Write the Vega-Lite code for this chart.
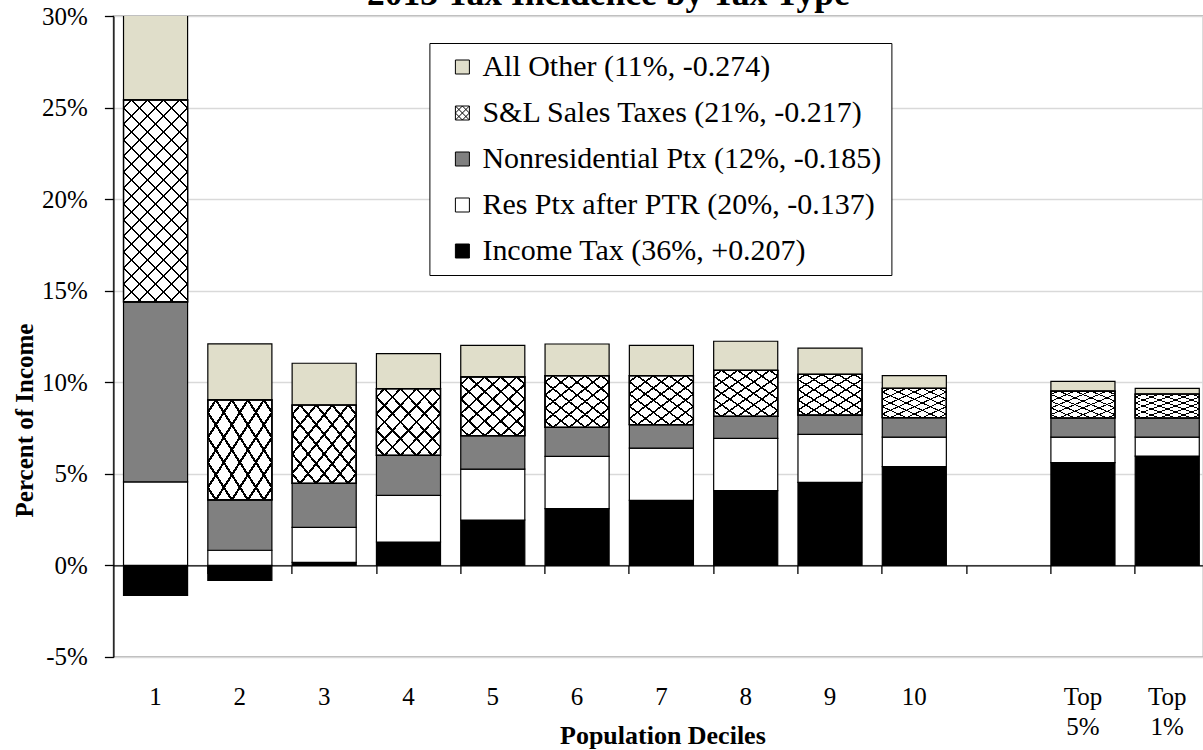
{
  "$schema": "https://vega.github.io/schema/vega-lite/v6.json",
  "width": 1090,
  "height": 641,
  "autosize": "none",
  "padding": {"left": 113.4, "top": 16, "right": 0, "bottom": 93},
  "config": {
    "font": "Liberation Serif",
    "view": {"stroke": "#a0a0a0", "strokeWidth": 1.5},
    "axisY": {
      "titleFont": "Liberation Serif",
      "titleFontSize": 25,
      "titleFontWeight": "bold",
      "titleColor": "black",
      "titleAngle": -90,
      "titleAlign": "center",
      "titleBaseline": "alphabetic",
      "titleX": -81,
      "titleY": 404,
      "labelFont": "Liberation Serif",
      "labelFontSize": 25,
      "labelColor": "black",
      "labelPadding": 17,
      "tickSize": 9,
      "tickColor": "black",
      "tickWidth": 1.3,
      "domainColor": "black",
      "domainWidth": 1.3,
      "grid": true,
      "gridColor": "#d9d9d9",
      "gridWidth": 1.3
    }
  },
  "title": {
    "text": "2013 Tax Incidence by Tax Type",
    "font": "Liberation Serif",
    "fontSize": 35.5,
    "fontWeight": "bold",
    "color": "black",
    "frame": "group",
    "anchor": "middle",
    "baseline": "alphabetic",
    "offset": -36,
    "dx": -50
  },
  "data": {
    "values": [
      {"d": "1", "t": "Income Tax (36%, +0.207)", "v": -1.64},
      {"d": "1", "t": "Res Ptx after PTR (20%, -0.137)", "v": 4.56},
      {"d": "1", "t": "Nonresidential Ptx (12%, -0.185)", "v": 9.83},
      {"d": "1", "t": "S&L Sales Taxes (21%, -0.217)", "v": 11.03},
      {"d": "1", "t": "All Other (11%, -0.274)", "v": 5.5},
      {"d": "2", "t": "Income Tax (36%, +0.207)", "v": -0.82},
      {"d": "2", "t": "Res Ptx after PTR (20%, -0.137)", "v": 0.83},
      {"d": "2", "t": "Nonresidential Ptx (12%, -0.185)", "v": 2.75},
      {"d": "2", "t": "S&L Sales Taxes (21%, -0.217)", "v": 5.46},
      {"d": "2", "t": "All Other (11%, -0.274)", "v": 3.06},
      {"d": "3", "t": "Income Tax (36%, +0.207)", "v": 0.17},
      {"d": "3", "t": "Res Ptx after PTR (20%, -0.137)", "v": 1.91},
      {"d": "3", "t": "Nonresidential Ptx (12%, -0.185)", "v": 2.40},
      {"d": "3", "t": "S&L Sales Taxes (21%, -0.217)", "v": 4.28},
      {"d": "3", "t": "All Other (11%, -0.274)", "v": 2.28},
      {"d": "4", "t": "Income Tax (36%, +0.207)", "v": 1.28},
      {"d": "4", "t": "Res Ptx after PTR (20%, -0.137)", "v": 2.55},
      {"d": "4", "t": "Nonresidential Ptx (12%, -0.185)", "v": 2.18},
      {"d": "4", "t": "S&L Sales Taxes (21%, -0.217)", "v": 3.64},
      {"d": "4", "t": "All Other (11%, -0.274)", "v": 1.91},
      {"d": "5", "t": "Income Tax (36%, +0.207)", "v": 2.48},
      {"d": "5", "t": "Res Ptx after PTR (20%, -0.137)", "v": 2.78},
      {"d": "5", "t": "Nonresidential Ptx (12%, -0.185)", "v": 1.82},
      {"d": "5", "t": "S&L Sales Taxes (21%, -0.217)", "v": 3.21},
      {"d": "5", "t": "All Other (11%, -0.274)", "v": 1.73},
      {"d": "6", "t": "Income Tax (36%, +0.207)", "v": 3.10},
      {"d": "6", "t": "Res Ptx after PTR (20%, -0.137)", "v": 2.85},
      {"d": "6", "t": "Nonresidential Ptx (12%, -0.185)", "v": 1.59},
      {"d": "6", "t": "S&L Sales Taxes (21%, -0.217)", "v": 2.82},
      {"d": "6", "t": "All Other (11%, -0.274)", "v": 1.73},
      {"d": "7", "t": "Income Tax (36%, +0.207)", "v": 3.55},
      {"d": "7", "t": "Res Ptx after PTR (20%, -0.137)", "v": 2.86},
      {"d": "7", "t": "Nonresidential Ptx (12%, -0.185)", "v": 1.28},
      {"d": "7", "t": "S&L Sales Taxes (21%, -0.217)", "v": 2.67},
      {"d": "7", "t": "All Other (11%, -0.274)", "v": 1.66},
      {"d": "8", "t": "Income Tax (36%, +0.207)", "v": 4.08},
      {"d": "8", "t": "Res Ptx after PTR (20%, -0.137)", "v": 2.86},
      {"d": "8", "t": "Nonresidential Ptx (12%, -0.185)", "v": 1.20},
      {"d": "8", "t": "S&L Sales Taxes (21%, -0.217)", "v": 2.51},
      {"d": "8", "t": "All Other (11%, -0.274)", "v": 1.59},
      {"d": "9", "t": "Income Tax (36%, +0.207)", "v": 4.54},
      {"d": "9", "t": "Res Ptx after PTR (20%, -0.137)", "v": 2.62},
      {"d": "9", "t": "Nonresidential Ptx (12%, -0.185)", "v": 1.05},
      {"d": "9", "t": "S&L Sales Taxes (21%, -0.217)", "v": 2.22},
      {"d": "9", "t": "All Other (11%, -0.274)", "v": 1.44},
      {"d": "10", "t": "Income Tax (36%, +0.207)", "v": 5.39},
      {"d": "10", "t": "Res Ptx after PTR (20%, -0.137)", "v": 1.62},
      {"d": "10", "t": "Nonresidential Ptx (12%, -0.185)", "v": 1.06},
      {"d": "10", "t": "S&L Sales Taxes (21%, -0.217)", "v": 1.60},
      {"d": "10", "t": "All Other (11%, -0.274)", "v": 0.69},
      {"d": "Top 5%", "t": "Income Tax (36%, +0.207)", "v": 5.61},
      {"d": "Top 5%", "t": "Res Ptx after PTR (20%, -0.137)", "v": 1.40},
      {"d": "Top 5%", "t": "Nonresidential Ptx (12%, -0.185)", "v": 1.04},
      {"d": "Top 5%", "t": "S&L Sales Taxes (21%, -0.217)", "v": 1.47},
      {"d": "Top 5%", "t": "All Other (11%, -0.274)", "v": 0.53},
      {"d": "Top 1%", "t": "Income Tax (36%, +0.207)", "v": 5.97},
      {"d": "Top 1%", "t": "Res Ptx after PTR (20%, -0.137)", "v": 1.04},
      {"d": "Top 1%", "t": "Nonresidential Ptx (12%, -0.185)", "v": 1.04},
      {"d": "Top 1%", "t": "S&L Sales Taxes (21%, -0.217)", "v": 1.31},
      {"d": "Top 1%", "t": "All Other (11%, -0.274)", "v": 0.31}
    ]
  },
  "transform": [
    {"calculate": "indexof(['Income Tax (36%, +0.207)', 'Res Ptx after PTR (20%, -0.137)', 'Nonresidential Ptx (12%, -0.185)', 'S&L Sales Taxes (21%, -0.217)', 'All Other (11%, -0.274)'], datum.t)", "as": "o"},
    {"stack": "v", "groupby": ["d"], "sort": [{"field": "o", "order": "ascending"}], "as": ["y0", "y1"]}
  ],
  "resolve": {"axis": {"x": "independent"}},
  "layer": [
    {
      "mark": {"type": "bar", "stroke": "black", "strokeWidth": 1.2, "clip": true},
      "encoding": {
        "x": {
          "field": "d",
          "type": "nominal",
          "sort": null,
          "scale": {
            "domain": ["1", "2", "3", "4", "5", "6", "7", "8", "9", "10", " ", "Top 5%", "Top 1%"],
            "range": [0, 1096],
            "paddingInner": 0.24,
            "paddingOuter": 0.12
          },
          "axis": {
            "orient": "bottom",
            "title": "Population Deciles",
            "titleFont": "Liberation Serif",
            "titleFontSize": 26,
            "titleFontWeight": "bold",
            "titleColor": "black",
            "titleBaseline": "alphabetic",
            "titleX": 549,
            "titleY": 87,
            "domain": false,
            "ticks": false,
            "tickSize": 0,
            "grid": false,
            "labelFont": "Liberation Serif",
            "labelFontSize": 25,
            "labelColor": "black",
            "labelAngle": 0,
            "labelBaseline": "alphabetic",
            "labelPadding": 48,
            "labelLineHeight": 30,
            "labelExpr": "datum.value == 'Top 5%' ? ['Top', '5%'] : datum.value == 'Top 1%' ? ['Top', '1%'] : datum.label"
          }
        },
        "y": {
          "field": "y0",
          "type": "quantitative",
          "scale": {"domain": [-5, 30], "nice": false, "zero": false},
          "axis": {"title": "Percent of Income", "values": [-5, 0, 5, 10, 15, 20, 25, 30], "labelExpr": "datum.value + '%'"}
        },
        "y2": {"field": "y1"},
        "fill": {
          "field": "t",
          "type": "nominal",
          "scale": {
            "domain": ["All Other (11%, -0.274)", "S&L Sales Taxes (21%, -0.217)", "Nonresidential Ptx (12%, -0.185)", "Res Ptx after PTR (20%, -0.137)", "Income Tax (36%, +0.207)"],
            "range": ["#e0deca", "white", "#808080", "white", "black"]
          },
          "legend": {
            "title": null,
            "orient": "none",
            "legendX": 316,
            "legendY": 27,
            "direction": "vertical",
            "labelFont": "Liberation Serif",
            "labelFontSize": 30,
            "labelColor": "black",
            "labelLimit": 700,
            "labelOffset": 5,
            "symbolType": "square",
            "symbolSize": 196,
            "symbolStrokeColor": "black",
            "symbolStrokeWidth": 1,
            "symbolOffset": 9,
            "padding": 9,
            "rowPadding": 16,
            "strokeColor": "black",
            "fillColor": "white",
            "encode": {
              "symbols": {
                "update": {
                  "stroke": {"value": "black"},
                  "strokeWidth": {"value": 1},
                  "shape": [
                    {"test": "datum.value === 'S&L Sales Taxes (21%, -0.217)'", "value": "M-1,-1L1,-1L1,1L-1,1Z M-1,0L0,-1 M-1,1L1,-1 M0,1L1,0 M-1,0L0,1 M-1,-1L1,1 M0,-1L1,0"},
                    {"value": "square"}
                  ]
                }
              }
            }
          }
        }
      }
    },
    {
      "transform": [{"filter": "datum.t == 'S&L Sales Taxes (21%, -0.217)' && datum.d != '1'"}],
      "mark": {
        "type": "bar",
        "stroke": "black",
        "strokeWidth": 1.2,
        "clip": true,
        "fill": {"gradient": "linear", "x1": 0, "y1": 0, "x2": 1, "y2": 1, "stops": [
          {"offset": 0, "color": "rgba(0,0,0,0)"},
          {"offset": 0.0525, "color": "rgba(0,0,0,0)"}, {"offset": 0.0525, "color": "black"}, {"offset": 0.0725, "color": "black"}, {"offset": 0.0725, "color": "rgba(0,0,0,0)"},
          {"offset": 0.1775, "color": "rgba(0,0,0,0)"}, {"offset": 0.1775, "color": "black"}, {"offset": 0.1975, "color": "black"}, {"offset": 0.1975, "color": "rgba(0,0,0,0)"},
          {"offset": 0.3025, "color": "rgba(0,0,0,0)"}, {"offset": 0.3025, "color": "black"}, {"offset": 0.3225, "color": "black"}, {"offset": 0.3225, "color": "rgba(0,0,0,0)"},
          {"offset": 0.4275, "color": "rgba(0,0,0,0)"}, {"offset": 0.4275, "color": "black"}, {"offset": 0.4475, "color": "black"}, {"offset": 0.4475, "color": "rgba(0,0,0,0)"},
          {"offset": 0.5525, "color": "rgba(0,0,0,0)"}, {"offset": 0.5525, "color": "black"}, {"offset": 0.5725, "color": "black"}, {"offset": 0.5725, "color": "rgba(0,0,0,0)"},
          {"offset": 0.6775, "color": "rgba(0,0,0,0)"}, {"offset": 0.6775, "color": "black"}, {"offset": 0.6975, "color": "black"}, {"offset": 0.6975, "color": "rgba(0,0,0,0)"},
          {"offset": 0.8025, "color": "rgba(0,0,0,0)"}, {"offset": 0.8025, "color": "black"}, {"offset": 0.8225, "color": "black"}, {"offset": 0.8225, "color": "rgba(0,0,0,0)"},
          {"offset": 0.9275, "color": "rgba(0,0,0,0)"}, {"offset": 0.9275, "color": "black"}, {"offset": 0.9475, "color": "black"}, {"offset": 0.9475, "color": "rgba(0,0,0,0)"},
          {"offset": 1, "color": "rgba(0,0,0,0)"}
        ]}
      },
      "encoding": {
        "x": {
          "field": "d",
          "type": "nominal",
          "sort": null,
          "scale": {
            "domain": ["1", "2", "3", "4", "5", "6", "7", "8", "9", "10", " ", "Top 5%", "Top 1%"],
            "range": [0, 1096],
            "paddingInner": 0.24,
            "paddingOuter": 0.12
          },
          "axis": null
        },
        "y": {
          "field": "y0",
          "type": "quantitative",
          "scale": {"domain": [-5, 30], "nice": false, "zero": false},
          "axis": {"title": "Percent of Income", "values": [-5, 0, 5, 10, 15, 20, 25, 30], "labelExpr": "datum.value + '%'"}
        },
        "y2": {"field": "y1"}
      }
    },
    {
      "transform": [{"filter": "datum.t == 'S&L Sales Taxes (21%, -0.217)' && datum.d != '1'"}],
      "mark": {
        "type": "bar",
        "stroke": "black",
        "strokeWidth": 1.2,
        "clip": true,
        "fill": {"gradient": "linear", "x1": 1, "y1": 0, "x2": 0, "y2": 1, "stops": [
          {"offset": 0, "color": "rgba(0,0,0,0)"},
          {"offset": 0.0525, "color": "rgba(0,0,0,0)"}, {"offset": 0.0525, "color": "black"}, {"offset": 0.0725, "color": "black"}, {"offset": 0.0725, "color": "rgba(0,0,0,0)"},
          {"offset": 0.1775, "color": "rgba(0,0,0,0)"}, {"offset": 0.1775, "color": "black"}, {"offset": 0.1975, "color": "black"}, {"offset": 0.1975, "color": "rgba(0,0,0,0)"},
          {"offset": 0.3025, "color": "rgba(0,0,0,0)"}, {"offset": 0.3025, "color": "black"}, {"offset": 0.3225, "color": "black"}, {"offset": 0.3225, "color": "rgba(0,0,0,0)"},
          {"offset": 0.4275, "color": "rgba(0,0,0,0)"}, {"offset": 0.4275, "color": "black"}, {"offset": 0.4475, "color": "black"}, {"offset": 0.4475, "color": "rgba(0,0,0,0)"},
          {"offset": 0.5525, "color": "rgba(0,0,0,0)"}, {"offset": 0.5525, "color": "black"}, {"offset": 0.5725, "color": "black"}, {"offset": 0.5725, "color": "rgba(0,0,0,0)"},
          {"offset": 0.6775, "color": "rgba(0,0,0,0)"}, {"offset": 0.6775, "color": "black"}, {"offset": 0.6975, "color": "black"}, {"offset": 0.6975, "color": "rgba(0,0,0,0)"},
          {"offset": 0.8025, "color": "rgba(0,0,0,0)"}, {"offset": 0.8025, "color": "black"}, {"offset": 0.8225, "color": "black"}, {"offset": 0.8225, "color": "rgba(0,0,0,0)"},
          {"offset": 0.9275, "color": "rgba(0,0,0,0)"}, {"offset": 0.9275, "color": "black"}, {"offset": 0.9475, "color": "black"}, {"offset": 0.9475, "color": "rgba(0,0,0,0)"},
          {"offset": 1, "color": "rgba(0,0,0,0)"}
        ]}
      },
      "encoding": {
        "x": {
          "field": "d",
          "type": "nominal",
          "sort": null,
          "scale": {
            "domain": ["1", "2", "3", "4", "5", "6", "7", "8", "9", "10", " ", "Top 5%", "Top 1%"],
            "range": [0, 1096],
            "paddingInner": 0.24,
            "paddingOuter": 0.12
          },
          "axis": {
            "orient": "bottom",
            "title": null,
            "labels": false,
            "grid": false,
            "domain": true,
            "domainColor": "black",
            "domainWidth": 1.3,
            "ticks": true,
            "tickColor": "black",
            "tickWidth": 1.3,
            "tickSize": 8,
            "bandPosition": 0,
            "offset": -91.57
          }
        },
        "y": {
          "field": "y0",
          "type": "quantitative",
          "scale": {"domain": [-5, 30], "nice": false, "zero": false},
          "axis": {"title": "Percent of Income", "values": [-5, 0, 5, 10, 15, 20, 25, 30], "labelExpr": "datum.value + '%'"}
        },
        "y2": {"field": "y1"}
      }
    },
    {
      "transform": [{"filter": "datum.t == 'S&L Sales Taxes (21%, -0.217)' && datum.d == '1'"}],
      "mark": {
        "type": "bar",
        "stroke": "black",
        "strokeWidth": 1.2,
        "clip": true,
        "fill": {"gradient": "linear", "x1": 0, "y1": 0, "x2": 0.3791, "y2": 1.1966, "stops": [
          {"offset": 0, "color": "rgba(0,0,0,0)"},
          {"offset": 0.0266, "color": "rgba(0,0,0,0)"}, {"offset": 0.0266, "color": "black"}, {"offset": 0.0336, "color": "black"}, {"offset": 0.0336, "color": "rgba(0,0,0,0)"},
          {"offset": 0.0867, "color": "rgba(0,0,0,0)"}, {"offset": 0.0867, "color": "black"}, {"offset": 0.0937, "color": "black"}, {"offset": 0.0937, "color": "rgba(0,0,0,0)"},
          {"offset": 0.1469, "color": "rgba(0,0,0,0)"}, {"offset": 0.1469, "color": "black"}, {"offset": 0.1539, "color": "black"}, {"offset": 0.1539, "color": "rgba(0,0,0,0)"},
          {"offset": 0.2070, "color": "rgba(0,0,0,0)"}, {"offset": 0.2070, "color": "black"}, {"offset": 0.2140, "color": "black"}, {"offset": 0.2140, "color": "rgba(0,0,0,0)"},
          {"offset": 0.2672, "color": "rgba(0,0,0,0)"}, {"offset": 0.2672, "color": "black"}, {"offset": 0.2742, "color": "black"}, {"offset": 0.2742, "color": "rgba(0,0,0,0)"},
          {"offset": 0.3273, "color": "rgba(0,0,0,0)"}, {"offset": 0.3273, "color": "black"}, {"offset": 0.3343, "color": "black"}, {"offset": 0.3343, "color": "rgba(0,0,0,0)"},
          {"offset": 0.3875, "color": "rgba(0,0,0,0)"}, {"offset": 0.3875, "color": "black"}, {"offset": 0.3945, "color": "black"}, {"offset": 0.3945, "color": "rgba(0,0,0,0)"},
          {"offset": 0.4476, "color": "rgba(0,0,0,0)"}, {"offset": 0.4476, "color": "black"}, {"offset": 0.4546, "color": "black"}, {"offset": 0.4546, "color": "rgba(0,0,0,0)"},
          {"offset": 0.5078, "color": "rgba(0,0,0,0)"}, {"offset": 0.5078, "color": "black"}, {"offset": 0.5148, "color": "black"}, {"offset": 0.5148, "color": "rgba(0,0,0,0)"},
          {"offset": 0.5679, "color": "rgba(0,0,0,0)"}, {"offset": 0.5679, "color": "black"}, {"offset": 0.5749, "color": "black"}, {"offset": 0.5749, "color": "rgba(0,0,0,0)"},
          {"offset": 0.6281, "color": "rgba(0,0,0,0)"}, {"offset": 0.6281, "color": "black"}, {"offset": 0.6351, "color": "black"}, {"offset": 0.6351, "color": "rgba(0,0,0,0)"},
          {"offset": 0.6882, "color": "rgba(0,0,0,0)"}, {"offset": 0.6882, "color": "black"}, {"offset": 0.6952, "color": "black"}, {"offset": 0.6952, "color": "rgba(0,0,0,0)"},
          {"offset": 0.7484, "color": "rgba(0,0,0,0)"}, {"offset": 0.7484, "color": "black"}, {"offset": 0.7554, "color": "black"}, {"offset": 0.7554, "color": "rgba(0,0,0,0)"},
          {"offset": 0.8085, "color": "rgba(0,0,0,0)"}, {"offset": 0.8085, "color": "black"}, {"offset": 0.8155, "color": "black"}, {"offset": 0.8155, "color": "rgba(0,0,0,0)"},
          {"offset": 0.8687, "color": "rgba(0,0,0,0)"}, {"offset": 0.8687, "color": "black"}, {"offset": 0.8757, "color": "black"}, {"offset": 0.8757, "color": "rgba(0,0,0,0)"},
          {"offset": 0.9288, "color": "rgba(0,0,0,0)"}, {"offset": 0.9288, "color": "black"}, {"offset": 0.9358, "color": "black"}, {"offset": 0.9358, "color": "rgba(0,0,0,0)"},
          {"offset": 1, "color": "rgba(0,0,0,0)"}
        ]}
      },
      "encoding": {
        "x": {
          "field": "d",
          "type": "nominal",
          "sort": null,
          "scale": {
            "domain": ["1", "2", "3", "4", "5", "6", "7", "8", "9", "10", " ", "Top 5%", "Top 1%"],
            "range": [0, 1096],
            "paddingInner": 0.24,
            "paddingOuter": 0.12
          },
          "axis": null
        },
        "y": {
          "field": "y0",
          "type": "quantitative",
          "scale": {"domain": [-5, 30], "nice": false, "zero": false},
          "axis": {"title": "Percent of Income", "values": [-5, 0, 5, 10, 15, 20, 25, 30], "labelExpr": "datum.value + '%'"}
        },
        "y2": {"field": "y1"}
      }
    },
    {
      "transform": [{"filter": "datum.t == 'S&L Sales Taxes (21%, -0.217)' && datum.d == '1'"}],
      "mark": {
        "type": "bar",
        "stroke": "black",
        "strokeWidth": 1.2,
        "clip": true,
        "fill": {"gradient": "linear", "x1": 1, "y1": 0, "x2": 0.6209, "y2": 1.1966, "stops": [
          {"offset": 0, "color": "rgba(0,0,0,0)"},
          {"offset": 0.0266, "color": "rgba(0,0,0,0)"}, {"offset": 0.0266, "color": "black"}, {"offset": 0.0336, "color": "black"}, {"offset": 0.0336, "color": "rgba(0,0,0,0)"},
          {"offset": 0.0867, "color": "rgba(0,0,0,0)"}, {"offset": 0.0867, "color": "black"}, {"offset": 0.0937, "color": "black"}, {"offset": 0.0937, "color": "rgba(0,0,0,0)"},
          {"offset": 0.1469, "color": "rgba(0,0,0,0)"}, {"offset": 0.1469, "color": "black"}, {"offset": 0.1539, "color": "black"}, {"offset": 0.1539, "color": "rgba(0,0,0,0)"},
          {"offset": 0.2070, "color": "rgba(0,0,0,0)"}, {"offset": 0.2070, "color": "black"}, {"offset": 0.2140, "color": "black"}, {"offset": 0.2140, "color": "rgba(0,0,0,0)"},
          {"offset": 0.2672, "color": "rgba(0,0,0,0)"}, {"offset": 0.2672, "color": "black"}, {"offset": 0.2742, "color": "black"}, {"offset": 0.2742, "color": "rgba(0,0,0,0)"},
          {"offset": 0.3273, "color": "rgba(0,0,0,0)"}, {"offset": 0.3273, "color": "black"}, {"offset": 0.3343, "color": "black"}, {"offset": 0.3343, "color": "rgba(0,0,0,0)"},
          {"offset": 0.3875, "color": "rgba(0,0,0,0)"}, {"offset": 0.3875, "color": "black"}, {"offset": 0.3945, "color": "black"}, {"offset": 0.3945, "color": "rgba(0,0,0,0)"},
          {"offset": 0.4476, "color": "rgba(0,0,0,0)"}, {"offset": 0.4476, "color": "black"}, {"offset": 0.4546, "color": "black"}, {"offset": 0.4546, "color": "rgba(0,0,0,0)"},
          {"offset": 0.5078, "color": "rgba(0,0,0,0)"}, {"offset": 0.5078, "color": "black"}, {"offset": 0.5148, "color": "black"}, {"offset": 0.5148, "color": "rgba(0,0,0,0)"},
          {"offset": 0.5679, "color": "rgba(0,0,0,0)"}, {"offset": 0.5679, "color": "black"}, {"offset": 0.5749, "color": "black"}, {"offset": 0.5749, "color": "rgba(0,0,0,0)"},
          {"offset": 0.6281, "color": "rgba(0,0,0,0)"}, {"offset": 0.6281, "color": "black"}, {"offset": 0.6351, "color": "black"}, {"offset": 0.6351, "color": "rgba(0,0,0,0)"},
          {"offset": 0.6882, "color": "rgba(0,0,0,0)"}, {"offset": 0.6882, "color": "black"}, {"offset": 0.6952, "color": "black"}, {"offset": 0.6952, "color": "rgba(0,0,0,0)"},
          {"offset": 0.7484, "color": "rgba(0,0,0,0)"}, {"offset": 0.7484, "color": "black"}, {"offset": 0.7554, "color": "black"}, {"offset": 0.7554, "color": "rgba(0,0,0,0)"},
          {"offset": 0.8085, "color": "rgba(0,0,0,0)"}, {"offset": 0.8085, "color": "black"}, {"offset": 0.8155, "color": "black"}, {"offset": 0.8155, "color": "rgba(0,0,0,0)"},
          {"offset": 0.8687, "color": "rgba(0,0,0,0)"}, {"offset": 0.8687, "color": "black"}, {"offset": 0.8757, "color": "black"}, {"offset": 0.8757, "color": "rgba(0,0,0,0)"},
          {"offset": 0.9288, "color": "rgba(0,0,0,0)"}, {"offset": 0.9288, "color": "black"}, {"offset": 0.9358, "color": "black"}, {"offset": 0.9358, "color": "rgba(0,0,0,0)"},
          {"offset": 1, "color": "rgba(0,0,0,0)"}
        ]}
      },
      "encoding": {
        "x": {
          "field": "d",
          "type": "nominal",
          "sort": null,
          "scale": {
            "domain": ["1", "2", "3", "4", "5", "6", "7", "8", "9", "10", " ", "Top 5%", "Top 1%"],
            "range": [0, 1096],
            "paddingInner": 0.24,
            "paddingOuter": 0.12
          },
          "axis": null
        },
        "y": {
          "field": "y0",
          "type": "quantitative",
          "scale": {"domain": [-5, 30], "nice": false, "zero": false},
          "axis": {"title": "Percent of Income", "values": [-5, 0, 5, 10, 15, 20, 25, 30], "labelExpr": "datum.value + '%'"}
        },
        "y2": {"field": "y1"}
      }
    }
  ]
}
